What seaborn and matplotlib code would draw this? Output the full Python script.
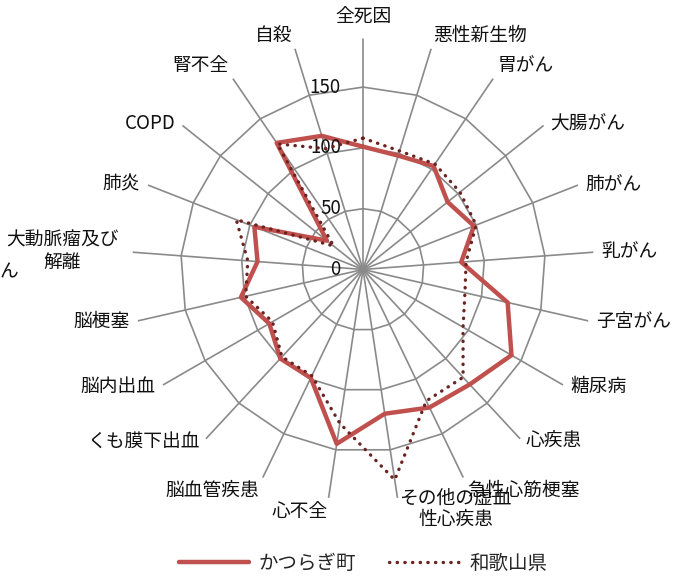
import numpy as np
import pandas as pd
import matplotlib
matplotlib.use('Agg')
import matplotlib.pyplot as plt
import seaborn as sns

# categories, clockwise from the top
categories = ['全死因', '悪性新生物', '胃がん', '大腸がん', '肺がん', '乳がん', '子宮がん',
              '糖尿病', '心疾患', '急性心筋梗塞', 'その他の虚血\n性心疾患', '心不全',
              '脳血管疾患', 'くも膜下出血', '脳内出血', '脳梗塞', '大動脈瘤及び\n解離',
              '肺炎', 'COPD', '腎不全', '自殺']
katsuragi = [101, 98, 103, 89, 98, 81, 122, 141, 129, 126, 120, 145,
             99, 100, 89, 103, 87, 96, 38, 126, 115]
wakayama = [108, 102, 105, 102, 100, 85, 86, 95, 121, 120, 175, 128,
            97, 98, 86, 99, 95, 112, 31, 125, 104]
ring_ticks = [0, 50, 100, 150]
r_max = 190

sns.set_style('white')
plt.rcParams['font.family'] = ['Noto Sans CJK JP', 'DejaVu Sans']

n = len(categories)
theta = np.linspace(0, 2 * np.pi, n, endpoint=False)
theta_closed = np.append(theta, theta[0] + 2 * np.pi)

df = pd.DataFrame({
    'theta': np.tile(theta_closed, 2),
    'value': katsuragi + katsuragi[:1] + wakayama + wakayama[:1],
    'area': ['かつらぎ町'] * (n + 1) + ['和歌山県'] * (n + 1),
})

fig = plt.figure(figsize=(6.85, 5.81), dpi=100)
ax = fig.add_axes([0.1927, 0.1386, 0.6745, 0.7952], projection='polar')
ax.set_theta_zero_location('N')
ax.set_theta_direction(-1)
ax.set_ylim(0, r_max)
ax.grid(False)
ax.spines['polar'].set_visible(False)

grid_color = '#8a8a8a'
# polygonal rings and spokes
for v in ring_ticks[1:]:
    ax.plot(theta_closed, [v] * (n + 1), color=grid_color, lw=1.2, zorder=1)
for t in theta:
    ax.plot([t, t], [0, r_max], color=grid_color, lw=1.2, zorder=1)

sns.lineplot(data=df[df['area'] == 'かつらぎ町'], x='theta', y='value', sort=False,
             ax=ax, color='#c0504d', lw=3.2, label='かつらぎ町', zorder=3,
             estimator=None)
sns.lineplot(data=df[df['area'] == '和歌山県'], x='theta', y='value', sort=False,
             ax=ax, color='#6b2321', lw=2.4, linestyle=(0, (0.1, 2.2)),
             dash_capstyle='round', label='和歌山県', zorder=4, estimator=None)
ax.set_xlabel('')
ax.set_ylabel('')
ax.set_xticks([])
ax.set_yticks([])

# ring value labels
for v in ring_ticks:
    ax.annotate(str(v), xy=(0, v), xytext=(-16, 0), textcoords='offset points',
                ha='right', va='center', fontsize=13.5, color='#111111')

# category labels
for t, lab in zip(theta, categories):
    s, c = np.sin(t), np.cos(t)
    ha = 'left' if s > 0.1 else ('right' if s < -0.1 else 'center')
    va = 'bottom' if c > 0.75 else ('top' if c < -0.75 else 'center')
    if '\n' in lab:
        va = 'center'
        off = (10 * s, 8 * c)
    elif abs(s) < 0.1:
        off = (0, 8 * c)
    else:
        off = (6 * s, 2 * c)
    ax.annotate(lab, xy=(t, r_max), xytext=off, textcoords='offset points',
                ha=ha, va=va, multialignment='center', fontsize=13.5,
                color='#111111', linespacing=1.05)

fig.text(0.0, 1 - 272 / 581, 'ん', ha='left', va='center', fontsize=13.5, color='#111111')

ax.legend(loc='center', bbox_to_anchor=(0.53, 0.03), bbox_transform=fig.transFigure,
          ncol=2, frameon=False, fontsize=14, handlelength=3.6, handletextpad=0.5,
          columnspacing=1.7)

fig.savefig('out.png', dpi=100)
